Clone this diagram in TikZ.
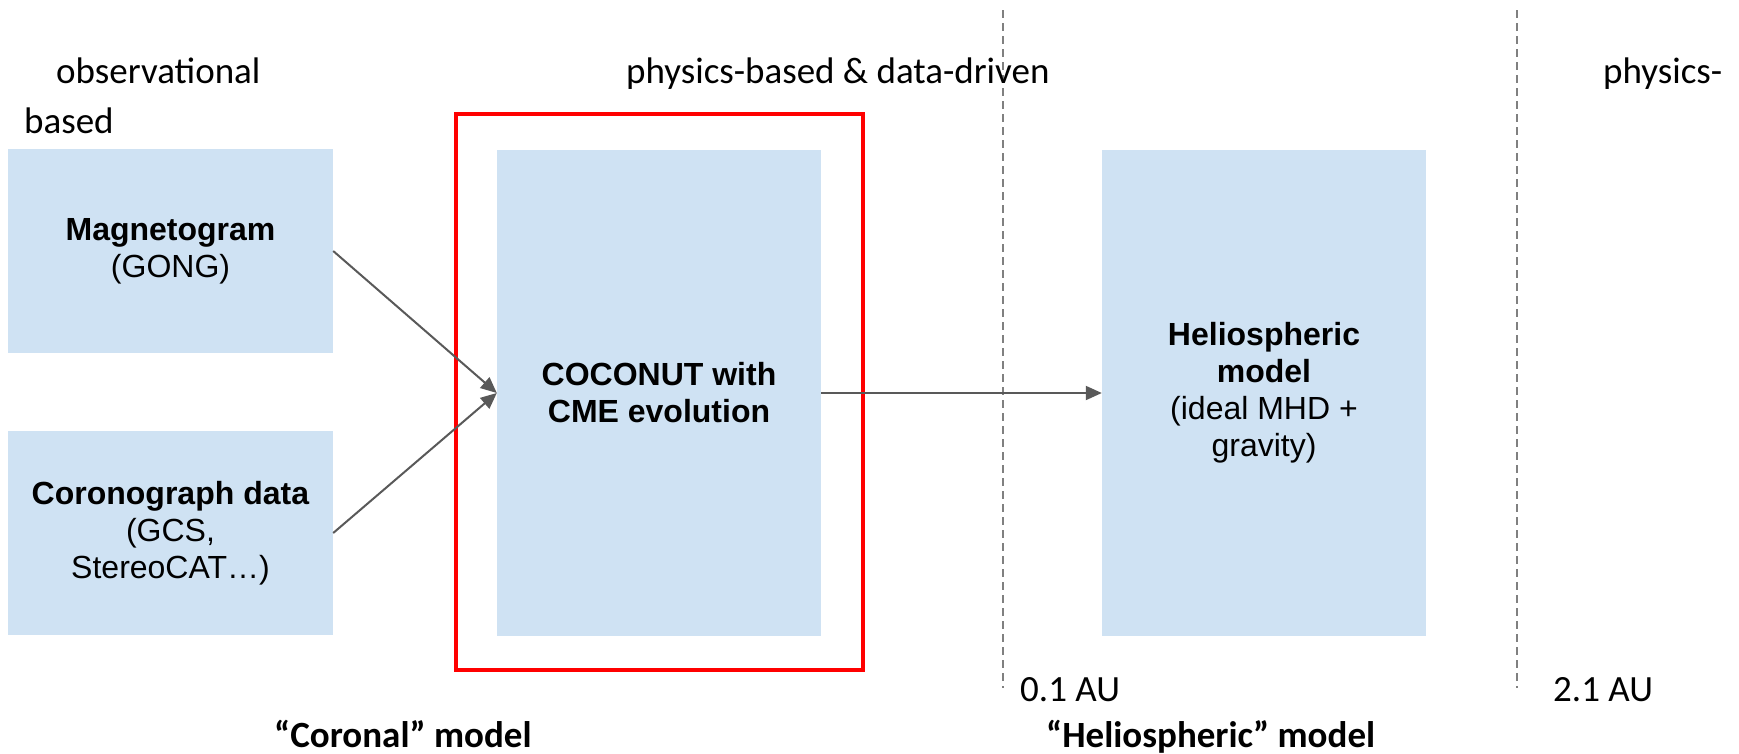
\documentclass[tikz,border=0pt]{standalone}
\usepackage{fontspec}
\setmainfont{Liberation Sans}
\newfontfamily\calfont{Carlito}
\usepackage{xcolor}
\usetikzlibrary{arrows.meta, positioning, calc}

\definecolor{boxblue}{HTML}{CFE2F3}
\definecolor{arrowgray}{HTML}{595959}
\definecolor{sepgray}{HTML}{808080}

\begin{document}
\begin{tikzpicture}[x=1pt, y=-1pt, >={Triangle[length=16pt, width=14pt]},
        modelbox/.style={fill=boxblue, minimum width=325pt, inner sep=0pt, align=center,
            font=\fontsize{32}{37}\selectfont},
        toplabel/.style={inner sep=0pt, anchor=base west, font=\calfont\fontsize{37}{44}\selectfont},
        flow/.style={->, draw=arrowgray, fill=arrowgray, line width=2pt},
        sepline/.style={draw=sepgray, line width=2pt, dash pattern=on 8pt off 5pt}]
        \useasboundingbox (0,0) rectangle (1739,753);

        % Input data
        \node[modelbox, minimum height=204pt] (magneto) at (170.5,251) {\textbf{Magnetogram}\\(GONG)};
        \node[modelbox, minimum height=204pt] (corono) at (170.5,533) {\textbf{Coronograph data}\\(GCS,\\StereoCAT\ldots)};

        % Coronal model in red frame
        \node[modelbox, minimum width=324pt, minimum height=486pt] (coconut) at (659,393) {\textbf{COCONUT with}\\\textbf{CME evolution}};
        \draw[red, line width=4pt] (456,114) rectangle (863,670);

        % Heliospheric model
        \node[modelbox, minimum width=324pt, minimum height=486pt] (helio) at (1264,393) {\textbf{Heliospheric}\\\textbf{model}\\(ideal MHD +\\gravity)};

        % Boundaries
        \draw[sepline] (1003,10) -- (1003,688);
        \draw[sepline] (1517,10) -- (1517,688);

        % Arrows
        \draw[flow] (magneto.east) -- (coconut.west);
        \draw[flow] (corono.east) -- (coconut.west);
        \draw[flow] (coconut.east) -- (helio.west);

        % Labels
        \node[toplabel] (obs) at (56,83) {observational};
        \node[toplabel] (obsb) at (24,133) {based};
        \node[toplabel] (physdata) at (626,83) {physics-based \& data-driven};
        \node[toplabel] (phys) at (1603,83) {physics-};
        \node[toplabel] (inner) at (1020,701) {0.1 AU};
        \node[toplabel] (outer) at (1553,701) {2.1 AU};
        \node[toplabel, font=\calfont\bfseries\fontsize{37}{44}\selectfont] (coronal) at (274,747) {“Coronal” model};
        \node[toplabel, font=\calfont\bfseries\fontsize{37}{44}\selectfont] (helioname) at (1046,747) {“Heliospheric” model};
    \end{tikzpicture}
\end{document}
